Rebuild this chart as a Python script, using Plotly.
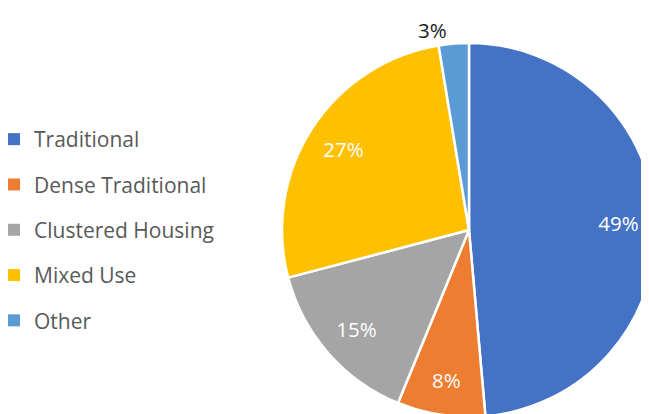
import plotly.graph_objects as go

labels = ["Traditional", "Dense Traditional", "Clustered Housing", "Mixed Use", "Other"]
values = [48.6, 7.6, 14.7, 26.5, 2.6]
colors = ["#4472C4", "#ED7D31", "#A5A5A5", "#FFC000", "#5B9BD5"]

W, H = 660, 420
OFF = 8  # page body margin

dom = dict(x=[(282 - OFF) / W, (656 - OFF) / W],
           y=[1 - (417 - OFF) / H, 1 - (43 - OFF) / H])

fig = go.Figure()

# the visible pie
fig.add_trace(go.Pie(
    labels=labels, values=values, sort=False, direction="clockwise", rotation=0,
    marker=dict(colors=colors, line=dict(color="white", width=2.5)),
    textinfo="none", domain=dom, showlegend=False, hoverinfo="label+percent",
))

# invisible ring on top, only used to push the percent labels outward
fig.add_trace(go.Pie(
    labels=labels, values=values, sort=False, direction="clockwise", rotation=0,
    hole=0.6,
    marker=dict(colors=["rgba(0,0,0,0)"] * len(values), line=dict(width=0)),
    texttemplate="%{percent:.0%}",
    textposition=["inside", "inside", "inside", "inside", "outside"],
    insidetextorientation="horizontal",
    insidetextfont=dict(color="white", size=20.5),
    outsidetextfont=dict(color="#1a1a1a", size=20.5),
    domain=dom, showlegend=False, hoverinfo="skip",
))

# legend entries, one group each so the gap can match the spacing
for name, c in zip(labels, colors):
    fig.add_trace(go.Scatter(
        x=[None], y=[None], mode="markers", name=name,
        marker=dict(symbol="square", size=8, color=c),
        legendgroup=name,
    ))

fig.update_layout(
    width=W, height=H,
    margin=dict(l=0, r=0, t=0, b=0, autoexpand=False),
    paper_bgcolor="white",
    plot_bgcolor="white",
    font=dict(family="Open Sans, sans-serif", size=20, color="#595959"),
    xaxis=dict(visible=False),
    yaxis=dict(visible=False),
    legend=dict(
        x=-14 / W, y=1 - (230 - OFF) / H, xanchor="left", yanchor="middle",
        tracegroupgap=15, itemsizing="constant",
        font=dict(size=21, color="#595959"),
    ),
)

fig.write_html("out.html")
